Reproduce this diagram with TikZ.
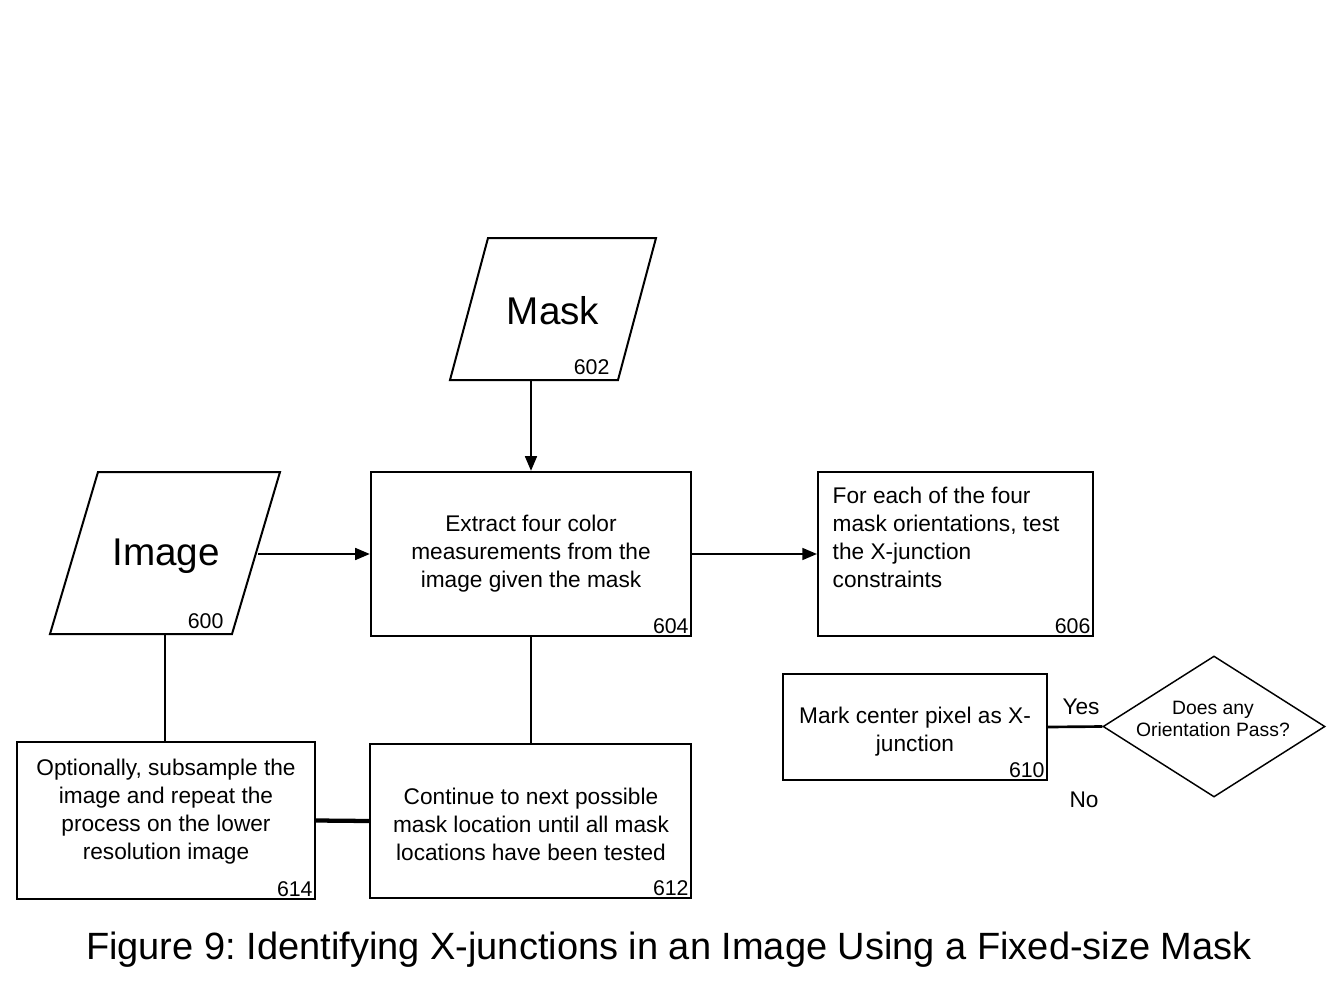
\documentclass[tikz,border=0pt]{standalone}
\usepackage{fontspec}
\setmainfont{Liberation Sans}
\usetikzlibrary{arrows.meta,shapes.geometric}
\frenchspacing
\tikzset{
  box/.style={draw, line width=1.8pt, inner sep=0pt},
  boxtext/.style={font=\fontsize{17}{21}\selectfont, align=center},
  num/.style={font=\fontsize{16}{18}\selectfont, anchor=south east, inner sep=2.5pt},
  arr/.style={line width=1.3pt, -{Triangle[length=11pt,width=9pt]}},
  link/.style={line width=1.8pt}
}
\begin{document}
\begin{tikzpicture}[x=0.75pt,y=-0.75pt]
  \useasboundingbox (0,0) rectangle (1338,1003);
  % input shapes
  \draw[line width=1.5pt] (450,380)--(488,238)--(656,238)--(618,380)--cycle;
  \node[font=\fontsize{29}{33}\selectfont] (mask) at (553,311) {Mask};
  \node[num] at (613,378) {602};
  \coordinate (maskbot) at (531,380);
  \draw[line width=1.5pt] (50,634)--(98,472)--(280,472)--(232,634)--cycle;
  \node[font=\fontsize{29}{33}\selectfont] (image) at (166,556) {Image};
  \node[num] at (227,632) {600};
  \coordinate (imgright) at (258,554);
  \coordinate (imgbot) at (165,634);
  % boxes
  \node[box, minimum width=240pt, minimum height=123pt] (b604) at (531,554) {};
  \node[boxtext] at (b604) {Extract four color\\measurements from the\\image given the mask};
  \node[num] at (b604.south east) {604};
  \node[box, minimum width=206pt, minimum height=123pt] (b606) at (955.5,554) {};
  \node[boxtext, align=left, anchor=north west] at (828,482) {For each of the four\\mask orientations, test\\the X-junction\\constraints};
  \node[num] at (b606.south east) {606};
  \node[box, minimum width=198pt, minimum height=79.5pt] (b610) at (915,727) {};
  \node[boxtext] at (915,732) {Mark center pixel as X-\\junction};
  \node[num] at (b610.south east) {610};
  \node[box, minimum width=223.5pt, minimum height=117.75pt] (b614) at (166,820.5) {};
  \node[boxtext] at (166,812) {Optionally, subsample the\\image and repeat the\\process on the lower\\resolution image};
  \node[num] at (b614.south east) {614};
  \node[box, minimum width=240.75pt, minimum height=115.5pt] (b612) at (530.5,821) {};
  \node[boxtext] at (531,824) {Continue to next possible\\mask location until all mask\\locations have been tested};
  \node[num] at (b612.south east) {612};
  % decision
  \node[diamond, draw, line width=1.1pt, minimum width=166.5pt, minimum height=105.75pt, inner sep=0pt] (d608) at (1214,726.5) {};
  \node[font=\fontsize{14.5}{17}\selectfont, align=center] at (1213,719) {Does any\\Orientation Pass?};
  % connectors
  \draw[arr] (maskbot) -- (maskbot |- b604.north);
  \draw[arr] (imgright) -- (b604.west);
  \draw[arr] (b604.east) -- (b606.west);
  \draw[link] (imgbot) -- (b614.north -| imgbot);
  \draw[link] (b604.south) -- (b612.north -| b604.south);
  \draw[line width=3.2pt] (b614.east) -- (b612.west);
  \draw[line width=2pt] (b610.east) -- (d608.west);
  \node[font=\fontsize{17}{20}\selectfont] (yes) at (1081,707) {Yes};
  \node[font=\fontsize{17}{20}\selectfont] (no) at (1084,800) {No};
  % caption
  \node[font=\fontsize{28.5}{32}\selectfont] (cap) at (669,950) {Figure 9: Identifying X-junctions in an Image Using a Fixed-size Mask};
\end{tikzpicture}
\end{document}
